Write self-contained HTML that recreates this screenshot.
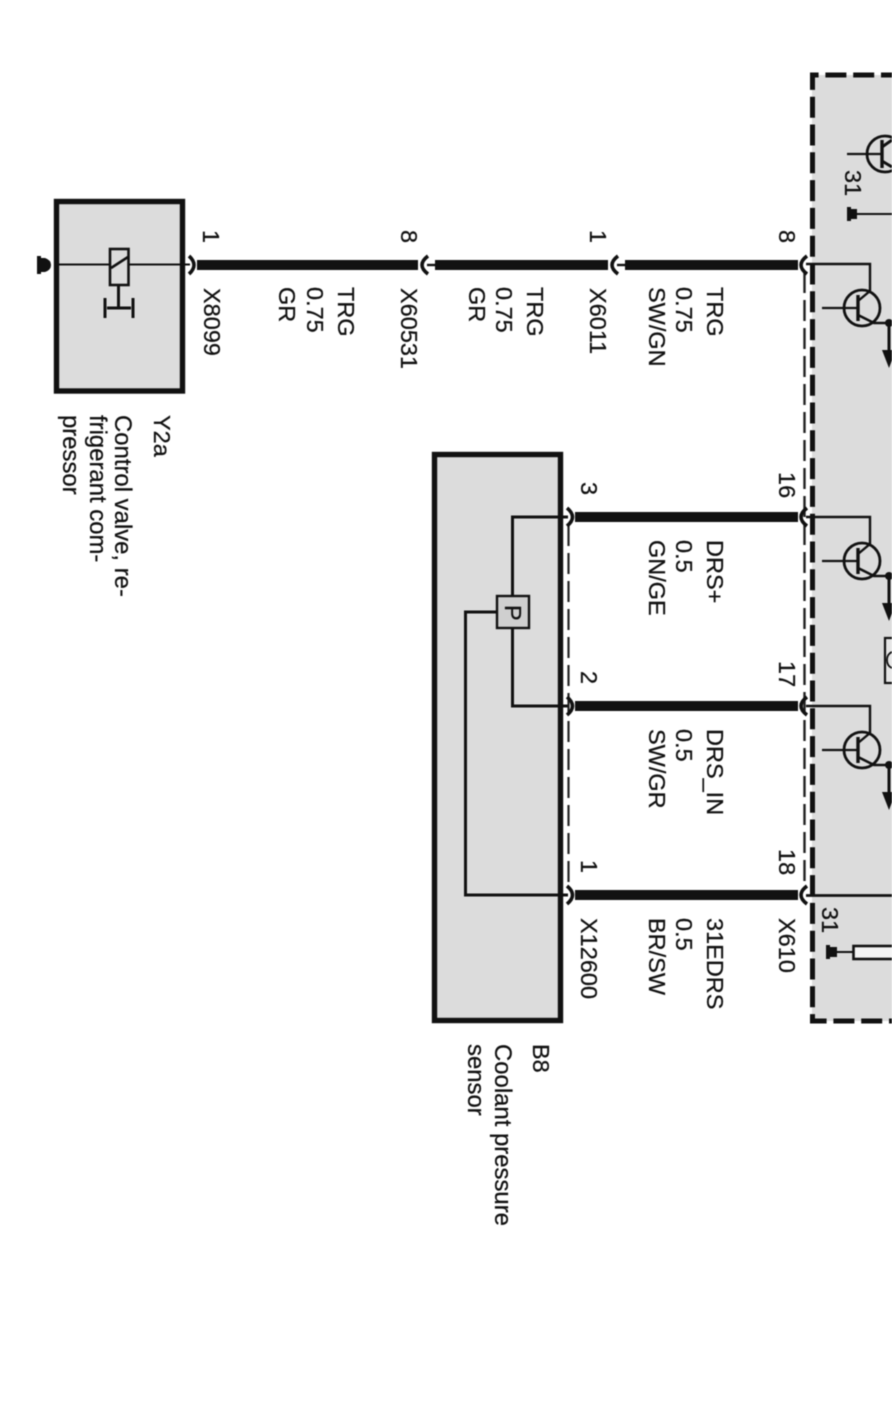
<!DOCTYPE html>
<html>
<head>
<meta charset="utf-8">
<style>
html,body{margin:0;padding:0;background:#fff;}
svg{display:block;filter:blur(0.45px);}
text{font-family:"Liberation Sans",sans-serif;font-size:23.5px;fill:#111;stroke:#111;stroke-width:0.25px;}
text.l{font-size:23.9px;}
</style>
</head>
<body>
<svg width="892" height="1403" viewBox="0 0 892 1403" xmlns="http://www.w3.org/2000/svg">
<defs>
<g id="tr">
  <circle cx="0" cy="0" r="18" fill="none" stroke="#111" stroke-width="2.800"/>
  <line x1="-40" y1="0" x2="-4" y2="0" stroke="#111" stroke-width="2.200"/>
  <line x1="-4" y1="-13" x2="-4" y2="13" stroke="#111" stroke-width="3.400"/>
  <path d="M-4 -7 L8 -17 L8 -44 L-56 -44" fill="none" stroke="#111" stroke-width="2.400"/>
  <path d="M-4 7 L12 15 L27 15" fill="none" stroke="#111" stroke-width="2.600"/>
  <circle cx="27" cy="15" r="4" fill="#111"/>
  <line x1="27" y1="15" x2="27" y2="44" stroke="#111" stroke-width="3"/>
  <path d="M20 42 L34 42 L27 60 Z" fill="#111"/>
</g>
</defs>

<!-- control unit frame -->
<rect x="812" y="75" width="80" height="946" fill="#dcdcdc"/>
<path d="M892 75 H812.5 V1021 H892" fill="none" stroke="#111" stroke-width="5" stroke-dasharray="21 6.8" stroke-dashoffset="10"/>

<!-- thin dashed harness shields -->
<path d="M804.5 272 V888" fill="none" stroke="#222" stroke-width="2.400" stroke-dasharray="21 7"/>
<path d="M568.5 525 V888" fill="none" stroke="#222" stroke-width="2.200" stroke-dasharray="21 7"/>

<!-- component boxes -->
<rect x="56.5" y="201.5" width="126" height="189.500" fill="#dcdcdc" stroke="#111" stroke-width="5.400"/>
<rect x="434.5" y="454.500" width="126" height="566" fill="#dcdcdc" stroke="#111" stroke-width="5.400"/>

<!-- thick wires -->
<g fill="none" stroke="#111" stroke-width="10">
  <line x1="197" y1="265" x2="418" y2="265"/>
  <line x1="435" y1="265" x2="608" y2="265"/>
  <line x1="625" y1="265" x2="798" y2="265"/>
  <line x1="575" y1="517" x2="798" y2="517"/>
  <line x1="575" y1="706" x2="798" y2="706"/>
  <line x1="575" y1="895" x2="798" y2="895"/>
</g>
<g fill="none" stroke="#111" stroke-width="2.400">
  <line x1="427" y1="265" x2="435" y2="265"/>
  <line x1="617" y1="265" x2="625" y2="265"/>
</g>

<!-- connector arcs -->
<g fill="none" stroke="#111" stroke-width="3.600">
  <path d="M189 256 Q199 265 189 274"/>
  <path d="M428 256 Q416 265 428 274"/>
  <path d="M618 256 Q606 265 618 274"/>
  <path d="M807 256 Q795 265 807 274"/>
  <path d="M807 508 Q795 517 807 526"/>
  <path d="M807 697 Q795 706 807 715"/>
  <path d="M807 886 Q795 895 807 904"/>
  <path d="M567 508 Q578 517 567 526"/>
  <path d="M567 697 Q578 706 567 715"/>
  <path d="M567 886 Q578 895 567 904"/>
</g>

<!-- Y2a internals -->
<line x1="58" y1="264.500" x2="190" y2="264.500" stroke="#111" stroke-width="2"/>
<rect x="110" y="249" width="18.500" height="36" fill="#dcdcdc" stroke="#111" stroke-width="2.600"/>
<line x1="111" y1="268" x2="128" y2="257" stroke="#111" stroke-width="2.600"/>
<line x1="118.500" y1="285" x2="118.500" y2="308" stroke="#111" stroke-width="3"/>
<line x1="107" y1="308" x2="131" y2="308" stroke="#111" stroke-width="3"/>
<line x1="105" y1="298" x2="105" y2="318" stroke="#111" stroke-width="3"/>
<line x1="133" y1="298" x2="133" y2="318" stroke="#111" stroke-width="3"/>

<!-- ground Y2a -->
<rect x="37" y="256" width="4" height="18" fill="#111"/>
<path d="M40 258 H45 Q51 260 51 265 Q51 270 45 272 H40 Z" fill="#111"/>

<!-- B8 internals -->
<g fill="none" stroke="#111" stroke-width="3">
  <path d="M568 517 H512.500 V595"/>
  <path d="M512.500 628 V706 H568"/>
  <path d="M496 612 H465.500 V895 H568"/>
</g>
<rect x="497" y="596" width="32" height="32" fill="#cfcfcf" stroke="#111" stroke-width="2.400"/>
<text transform="translate(505,605) rotate(90)">P</text>

<!-- transistors -->
<use href="#tr" x="862" y="308"/>
<use href="#tr" x="862" y="561"/>
<use href="#tr" x="862" y="750"/>

<!-- top transistor -->
<circle cx="885" cy="154" r="18" fill="none" stroke="#111" stroke-width="2.800"/>
<line x1="847" y1="154" x2="882" y2="154" stroke="#111" stroke-width="2.200"/>
<line x1="882" y1="140" x2="882" y2="168" stroke="#111" stroke-width="3.400"/>
<path d="M882 147 L892 140 M882 161 L892 167" stroke="#111" stroke-width="3" fill="none"/>

<!-- ground top -->
<rect x="847" y="207" width="4" height="14" fill="#111"/>
<rect x="850" y="209" width="7" height="10" fill="#111"/>
<line x1="855" y1="214" x2="892" y2="214" stroke="#111" stroke-width="2"/>

<!-- X610-18 internal line -->
<line x1="806" y1="895.500" x2="892" y2="895.500" stroke="#111" stroke-width="2.800"/>

<!-- ground bottom -->
<rect x="826" y="945" width="4" height="14" fill="#111"/>
<rect x="829" y="947" width="8" height="10" fill="#111"/>
<line x1="835" y1="952" x2="854" y2="952" stroke="#111" stroke-width="2"/>
<rect x="853.500" y="946" width="50" height="13" fill="#f4f4f4" stroke="#111" stroke-width="2.600"/>

<!-- small symbol -->
<rect x="885" y="638" width="20" height="45" fill="#e6e6e6" stroke="#111" stroke-width="2.200"/>
<path d="M892 652 Q887 654 887 660 Q887 666 892 668" fill="none" stroke="#111" stroke-width="1.800"/>

<!-- pin numbers -->
<text transform="translate(203,230) rotate(90)">1</text>
<text transform="translate(401,230) rotate(90)">8</text>
<text transform="translate(590,230) rotate(90)">1</text>
<text transform="translate(779,230) rotate(90)">8</text>
<text transform="translate(581,482) rotate(90)">3</text>
<text transform="translate(581,671) rotate(90)">2</text>
<text transform="translate(581,860) rotate(90)">1</text>
<text transform="translate(779,472) rotate(90)">16</text>
<text transform="translate(779,661) rotate(90)">17</text>
<text transform="translate(779,849) rotate(90)">18</text>
<text transform="translate(845,170) rotate(90)">31</text>
<text transform="translate(822,907) rotate(90)">31</text>

<!-- connector names -->
<text transform="translate(204,288) rotate(90)">X8099</text>
<text transform="translate(401,288) rotate(90)">X60531</text>
<text transform="translate(590,288) rotate(90)">X6011</text>
<text transform="translate(779,918) rotate(90)">X610</text>
<text transform="translate(581,918) rotate(90)">X12600</text>

<!-- wire labels -->
<text transform="translate(338,287) rotate(90)">TRG</text>
<text transform="translate(307,287) rotate(90)">0.75</text>
<text transform="translate(279,287) rotate(90)">GR</text>

<text transform="translate(527,287) rotate(90)">TRG</text>
<text transform="translate(496,287) rotate(90)">0.75</text>
<text transform="translate(469,287) rotate(90)">GR</text>

<text transform="translate(707,287) rotate(90)">TRG</text>
<text transform="translate(676,287) rotate(90)">0.75</text>
<text transform="translate(649,287) rotate(90)">SW/GN</text>

<text transform="translate(707,540) rotate(90)">DRS+</text>
<text transform="translate(676,540) rotate(90)">0.5</text>
<text transform="translate(649,540) rotate(90)">GN/GE</text>

<text transform="translate(707,729) rotate(90)">DRS_IN</text>
<text transform="translate(676,729) rotate(90)">0.5</text>
<text transform="translate(649,729) rotate(90)">SW/GR</text>

<text transform="translate(707,918) rotate(90)">31EDRS</text>
<text transform="translate(676,918) rotate(90)">0.5</text>
<text transform="translate(649,918) rotate(90)">BR/SW</text>

<!-- component labels -->
<text transform="translate(154,415) rotate(90)">Y2a</text>
<text class="l" transform="translate(115,415) rotate(90)">Control valve, re-</text>
<text class="l" transform="translate(90,415) rotate(90)">frigerant com-</text>
<text class="l" transform="translate(63,415) rotate(90)">pressor</text>

<text transform="translate(533,1044) rotate(90)">B8</text>
<text class="l" transform="translate(495,1044) rotate(90)">Coolant pressure</text>
<text class="l" transform="translate(468,1044) rotate(90)">sensor</text>
</svg>
</body>
</html>
